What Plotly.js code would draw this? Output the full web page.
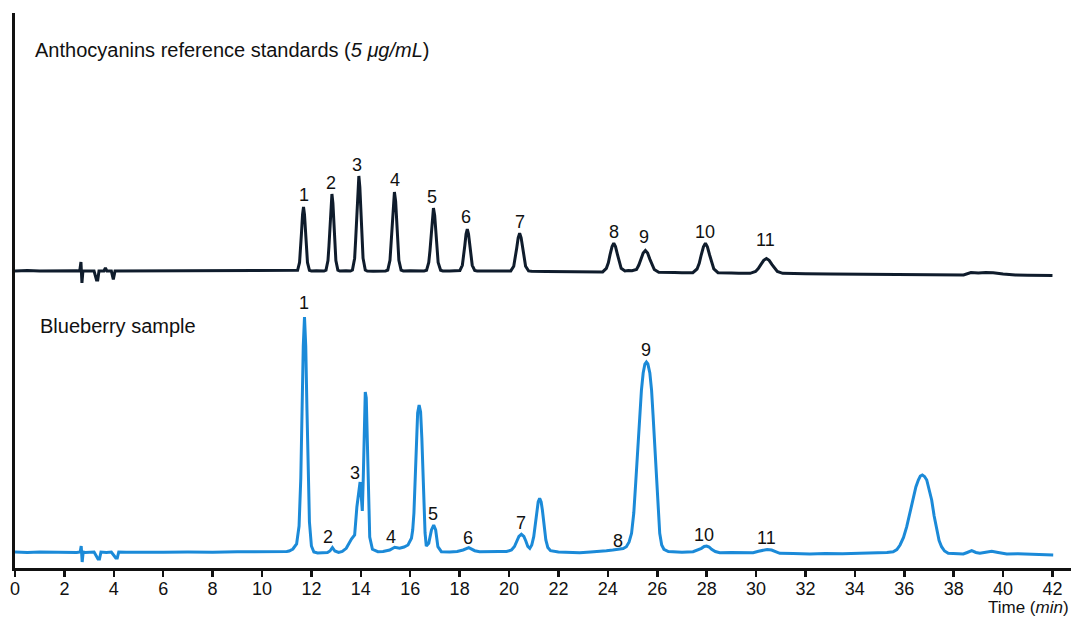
<!DOCTYPE html>
<html>
<head>
<meta charset="utf-8">
<script src="https://cdn.plot.ly/plotly-3.0.1.min.js"></script>
<style>html,body{margin:0;padding:0;background:#fff;}#chart{width:1071px;height:618px;}</style>
</head>
<body>
<div id="chart"></div>
<script>
// ---- Reference standards trace (time in min, detector signal in arbitrary units) ----
var stdTime = [0,0.5,1.0,1.5,2.0,2.5,2.62,2.67,2.71,2.75,2.82,3.2,3.3,3.35,3.4,3.6,3.66,3.72,3.9,3.98,4.05,4.4,5,6,7,8,9,10,11,
 11.36,11.44,11.52,11.56,11.60,11.64,11.68,11.72,11.76,11.80,11.84,11.92,12.00,12.2,12.4,
 12.51,12.59,12.67,12.71,12.75,12.79,12.83,12.87,12.91,12.95,12.99,13.07,13.15,13.4,
 13.58,13.66,13.75,13.79,13.84,13.88,13.92,13.96,14.00,14.05,14.09,14.18,14.26,14.5,14.8,
 15.00,15.09,15.18,15.22,15.27,15.31,15.36,15.41,15.45,15.50,15.54,15.63,15.72,16.0,16.3,
 16.56,16.66,16.75,16.80,16.85,16.89,16.94,16.99,17.04,17.08,17.13,17.23,17.32,17.6,
 17.91,18.01,18.11,18.16,18.21,18.26,18.31,18.36,18.41,18.46,18.51,18.61,18.71,19.0,19.5,
 19.95,20.07,20.19,20.25,20.31,20.37,20.43,20.49,20.55,20.61,20.67,20.79,20.91,21.5,22,22.5,23,23.5,
 23.64,23.79,23.94,24.02,24.09,24.17,24.24,24.31,24.39,24.47,24.54,24.69,24.83,
 24.98,25.16,25.25,25.34,25.43,25.52,25.61,25.70,25.79,25.88,26.06,26.24,26.7,27.0,
 27.27,27.44,27.61,27.70,27.78,27.87,27.95,28.03,28.12,28.21,28.29,28.46,28.63,29.0,29.3,
 29.54,29.76,29.98,30.09,30.20,30.31,30.42,30.53,30.64,30.75,30.86,31.08,31.30,
 32,33,34,35,36,37,38,38.4,38.7,39.0,39.3,39.6,40,40.5,41,41.5,42];
var stdSignal = [297,297.5,297,297.3,297,297.2,297,306,285,297,297,297,288,288,297,297,300,297,297,288.5,297,297,297.3,297,297.2,297,297.3,297,297.2,
 297,297.7,305.6,317.8,335.8,353.4,361,353.4,335.8,317.8,305.6,297.7,297,297.2,297,
 297,297.9,307.4,322,343.7,364.9,374,364.9,343.7,322,307.4,297.9,297,297.2,
 297,298,309.8,327.9,354.7,380.8,392,380.8,354.7,327.9,309.8,298,297,296.8,297.1,
 297,297.9,307.7,322.7,345,366.7,376,366.7,345,322.7,307.7,297.9,297,297.2,296.9,
 297,297.7,305.5,317.5,335.2,352.6,360,352.6,335.2,317.5,305.5,297.7,297,297.1,
 297,297.5,302.7,310.7,322.5,334,339,334,322.5,310.7,302.7,297.5,297,296.9,296.8,
 296.7,297.1,301.8,309.1,319.8,330.2,334.7,330.2,319.8,309.1,301.8,297.1,296.7,296.5,296.3,296.4,296.1,296,
 295.8,296.1,299.7,305.2,313.4,321.4,324.8,321.4,313.4,305.2,299.7,297,297.5,
 297.2,298.5,302.7,308.9,314.9,317.5,314.9,308.9,302.7,298.5,295.8,295.5,295.4,295.2,
 295,295.3,299,304.7,313,321.2,324.7,321.2,313,304.7,299,295.3,295,294.9,294.8,
 294.5,294.7,296.5,299.4,303.6,307.7,309.5,307.7,303.6,299.4,296.5,294.7,294.5,
 294.3,294.1,293.9,293.8,293.5,293.3,293,293,295.5,295,295.6,295.3,294,293,292.8,292.7,292.5];

// ---- Blueberry sample trace ----
var smpTime = [0,0.5,1,1.5,2,2.5,2.64,2.68,2.72,2.76,2.85,3.2,3.36,3.42,3.48,3.7,3.9,4.08,4.14,4.2,4.5,5,6,7,8,9,10,10.5,11.0,
 11.1,11.25,11.4,11.5,11.57,11.62,11.67,11.72,11.77,11.82,11.87,11.92,12.0,12.1,12.25,12.45,
 12.65,12.75,12.85,12.95,13.1,13.25,
 13.41,13.62,13.75,13.84,13.93,13.97,14.02,14.06,14.10,14.14,14.18,14.22,14.26,14.31,14.36,14.47,14.69,
 14.9,15.17,15.37,15.57,15.75,15.91,16.05,16.10,16.15,16.20,16.25,16.30,16.36,16.42,16.47,16.52,16.56,16.60,16.65,
 16.75,16.86,16.95,17.03,17.12,17.26,17.6,17.9,18.14,18.37,18.61,18.81,19.2,19.6,19.9,
 20.10,20.22,20.30,20.40,20.50,20.60,20.68,20.76,20.84,20.92,21.0,21.07,21.13,21.18,21.24,21.30,21.35,21.42,21.49,21.57,21.68,
 22.0,22.4,22.86,23.3,23.7,23.94,24.2,24.48,24.62,24.75,24.86,24.96,25.05,25.13,25.21,25.29,25.36,25.43,25.50,25.56,25.62,25.70,25.77,25.83,25.90,25.97,26.04,26.10,26.18,26.27,26.45,26.64,
 27.0,27.45,27.65,27.79,27.9,28.0,28.1,28.2,28.35,28.53,29.0,29.5,29.88,30.1,30.29,30.45,30.63,30.8,30.96,31.5,32.18,32.8,33.5,34.2,34.9,35.3,
 35.55,35.7,35.83,35.97,36.10,36.23,36.36,36.47,36.57,36.65,36.73,36.82,36.91,37.01,37.11,37.21,37.31,37.41,37.51,37.63,37.78,
 38.1,38.39,38.55,38.73,38.9,39.06,39.3,39.54,39.8,40.15,40.6,41.0,41.5,42.03];
var smpSignal = [16,15.5,16,15.7,16,15.6,16,22,6,16,15.6,16,9,9,16,15.5,16,10,10,16,15.8,16,15.8,16,15.7,16.2,16,16.3,16.5,
 17,19,24,42,90,158,222,251,222,158,90,46,22,16,15,15.3,
 15.5,17,20.5,17,15.5,16.5,
 19.7,29,33,61,81,86,71,57,91,144,176,170,128,71,31,18.7,16.3,
 16.5,18,20.7,19.7,21,23,29.7,38,55,90,130,155,163,156,130,90,58,35,22,
 24.7,38,43,38,21.3,16.3,16,16.5,18,20.3,17.3,16.3,16,16.4,16.5,
 18,21.5,26.3,31.5,33.7,31.5,27,21.5,19.7,23,31.3,45,58,66,69.7,66,58,43,28,20.5,17.3,
 16,15.8,15.3,16,16.5,17.3,18,18.7,19.5,21.3,26,34.7,55,86,120,153,178,195,204,206,204,195,178,153,120,86,55,34.7,23,18.7,16.5,16.3,
 15.8,16.3,18,19.7,21.5,22,21,18.7,16.5,15.3,15.5,15.3,15.3,16.8,18,18.5,18,16,14.7,14.5,14,14.5,14.2,14.7,15,15.5,
 16.3,18.5,23,30.5,41.3,56,71.3,81,88,92,93,91.5,88,79,68,52,38,27.5,21.3,17,14.7,
 14.2,14,15.5,17.3,15.5,14.7,15.8,16.7,15.5,14,14.3,13.8,13.5,13];

// ---- Peak labels ----
var stdLabelText = ["1","2","3","4","5","6","7","8","9","10","11"];
var stdLabelTime = [11.68,12.81,13.83,15.37,16.90,18.27,20.43,24.24,25.46,27.93,30.38];
var stdLabelY = [373,385,403,388,371,351,346,336,331,336,328];
var smpLabelText = ["1","2","3","4","5","6","7","8","9","10","11"];
var smpLabelTime = [11.68,12.67,13.75,15.21,16.92,18.34,20.50,24.41,25.56,27.89,30.43];
var smpLabelY = [265,31,95,31,54,30,45,27,218,33,30];

// ---- Panel captions ----
var stdCaption = "Anthocyanins reference standards (<i>5 μg/mL</i>)";
var smpCaption = "Blueberry sample";
var xTitle = "Time (<i>min</i>)";

var FONT = "Arial, 'Liberation Sans', sans-serif";
var annotations = [];
for (var i = 0; i < stdLabelText.length; i++) {
  annotations.push({x: stdLabelTime[i], y: stdLabelY[i], xref:'x', yref:'y', text: stdLabelText[i], showarrow:false,
    xanchor:'center', yanchor:'middle', font:{family:FONT, size:18, color:'#111'}});
}
for (var j = 0; j < smpLabelText.length; j++) {
  annotations.push({x: smpLabelTime[j], y: smpLabelY[j], xref:'x', yref:'y', text: smpLabelText[j], showarrow:false,
    xanchor:'center', yanchor:'middle', font:{family:FONT, size:18, color:'#111'}});
}
annotations.push({x: 0.74, y: 518, xref:'x', yref:'y', text: stdCaption, showarrow:false, xanchor:'left', yanchor:'middle',
  font:{family:FONT, size:20, color:'#111'}});
annotations.push({x: 0.93, y: 242, xref:'x', yref:'y', text: smpCaption, showarrow:false, xanchor:'left', yanchor:'middle',
  font:{family:FONT, size:20, color:'#111'}});
annotations.push({x: 1, y: -0.072, xref:'paper', yref:'paper', text: xTitle, showarrow:false, xanchor:'right', yanchor:'middle',
  font:{family:FONT, size:17, color:'#111'}});

var traces = [
  {x: stdTime, y: stdSignal, type:'scatter', mode:'lines', line:{color:'#0f1c2c', width:3}, hoverinfo:'skip'},
  {x: smpTime, y: smpSignal, type:'scatter', mode:'lines', line:{color:'#1b8ad8', width:3}, hoverinfo:'skip'}
];

var layout = {
  width:1071, height:618,
  margin:{l:15, r:0, t:13, b:50},
  paper_bgcolor:'#ffffff', plot_bgcolor:'#ffffff',
  showlegend:false,
  xaxis:{range:[0,42.75], tick0:0, dtick:2, ticks:'outside', ticklen:6, tickwidth:2.5, tickcolor:'#111',
    ticklabelstandoff:-3,
    showline:true, linewidth:2.5, linecolor:'#111', showgrid:false, zeroline:false,
    tickfont:{family:FONT, size:18, color:'#111'}},
  yaxis:{range:[0,555], showline:true, linewidth:3, linecolor:'#111', showticklabels:false, ticks:'',
    showgrid:false, zeroline:false},
  annotations: annotations
};

Plotly.newPlot('chart', traces, layout, {displayModeBar:false, staticPlot:true});
</script>
</body>
</html>
